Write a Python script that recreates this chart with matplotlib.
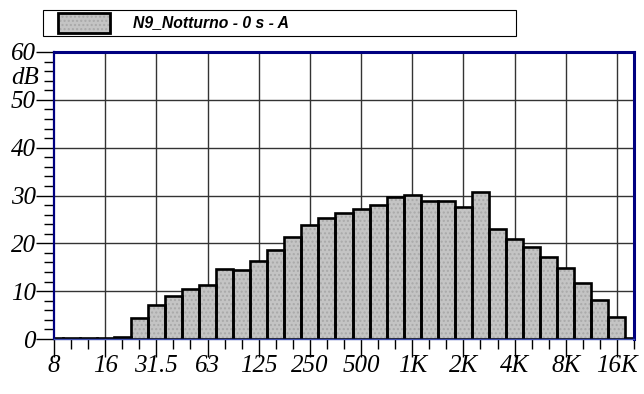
import numpy as np
import matplotlib.pyplot as plt
from matplotlib.patches import Rectangle

# third-octave bands, 8 Hz .. 20 kHz
bands = ["8", "10", "12.5", "16", "20", "25", "31.5", "40", "50", "63", "80", "100",
         "125", "160", "200", "250", "315", "400", "500", "630", "800", "1K", "1.25K",
         "1.6K", "2K", "2.5K", "3.15K", "4K", "5K", "6.3K", "8K", "10K", "12.5K",
         "16K", "20K"]
levels = [0.2, 0.2, 0.2, 0.2, 0.5, 4.3, 7.2, 9.0, 10.5, 11.2, 14.6, 14.4,
          16.4, 18.7, 21.4, 23.8, 25.4, 26.4, 27.1, 28.0, 29.6, 30.1, 28.9,
          28.9, 27.5, 30.7, 23.1, 21.0, 19.2, 17.2, 14.9, 11.7, 8.2, 4.5, 0.2]
tick_labels = ["8", "16", "31.5", "63", "125", "250", "500", "1K", "2K", "4K", "8K", "16K"]
title = "N9_Notturno - 0 s - A"

serif = {"family": "Liberation Serif", "style": "italic", "size": 18}

fig = plt.figure(figsize=(6.44, 3.94), dpi=100)
ax = fig.add_axes([54 / 644, 55 / 394, 580 / 644, 287 / 394])

x = np.arange(len(bands))
# fill with dotted texture, then black outlines on top
ax.bar(x, levels, width=1.0, color="#c4c4c4", hatch="....", edgecolor="#a9a9a9",
       linewidth=0, zorder=2)
ax.bar(x, levels, width=1.0, fill=False, edgecolor="black", linewidth=1.9, zorder=3)

ax.set_xlim(0, 34)
ax.set_ylim(0, 60)

major_x = np.arange(0, 34, 3)
ax.set_xticks(major_x)
ax.set_xticklabels(tick_labels, fontdict=serif)
ax.set_xticks(np.arange(0, 35), minor=True)
ax.set_yticks(np.arange(0, 61, 10))
ax.set_yticklabels([str(v) for v in range(0, 61, 10)], fontdict=serif)
ax.set_yticks(np.arange(0, 61, 2), minor=True)

ax.tick_params(axis="both", which="major", direction="out", length=13, width=1,
               color="black")
ax.tick_params(axis="both", which="minor", direction="out", length=7, width=1,
               color="black")
ax.tick_params(axis="x", which="major", pad=-1.5)
ax.tick_params(axis="y", which="major", pad=0)

for xv in major_x[1:]:
    ax.axvline(xv, color="#333333", lw=1, zorder=1)
for yv in range(10, 60, 10):
    ax.axhline(yv, color="#333333", lw=1, zorder=1)

ax.spines["top"].set_color("#000080")
ax.spines["top"].set_linewidth(2.2)
ax.spines["right"].set_color("#000080")
ax.spines["right"].set_linewidth(2.2)
ax.spines["left"].set_color("#000080")
ax.spines["left"].set_linewidth(1.6)
ax.spines["bottom"].set_color("#4050b0")
ax.spines["bottom"].set_linewidth(1)
for s in ax.spines.values():
    s.set_zorder(4)

ax.text(-0.026, 54.6, "dB", transform=ax.get_yaxis_transform(), ha="right",
        va="center", fontdict=serif)

# legend box
fig.patches.append(Rectangle((43 / 644, 358 / 394), 473 / 644, 26 / 394,
                             transform=fig.transFigure, fill=False,
                             edgecolor="black", lw=0.8))
fig.patches.append(Rectangle((58 / 644, 361 / 394), 52 / 644, 20 / 394,
                             transform=fig.transFigure, facecolor="#c4c4c4",
                             hatch="....", edgecolor="#a9a9a9", lw=0))
fig.patches.append(Rectangle((58 / 644, 361 / 394), 52 / 644, 20 / 394,
                             transform=fig.transFigure, fill=False,
                             edgecolor="black", lw=2))
fig.text(133 / 644, 371 / 394, title, ha="left", va="center",
         family="Liberation Sans", weight="bold", style="italic", size=11.3)

fig.savefig("out.png", dpi=100)
